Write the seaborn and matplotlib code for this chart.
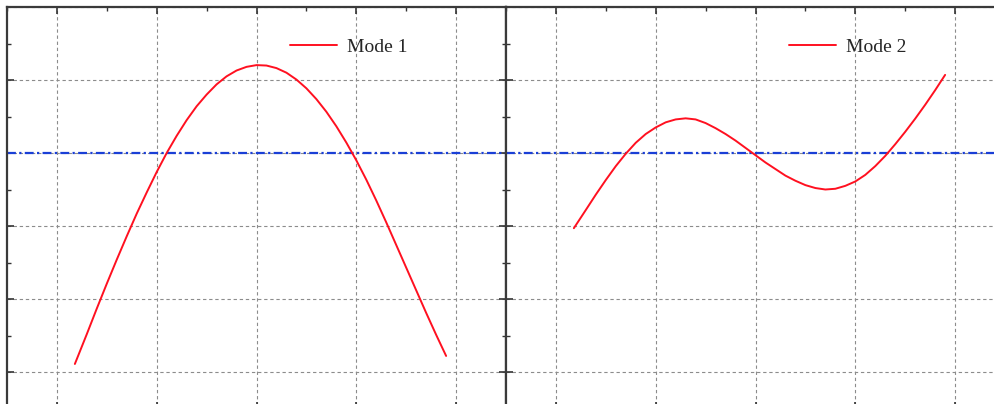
import matplotlib
matplotlib.use("Agg")
import matplotlib.pyplot as plt
from matplotlib.ticker import MultipleLocator
import pandas as pd
import seaborn as sns

# Mode shapes sampled along the span
mode1_x = [0.18, 0.30, 0.40, 0.50, 0.60, 0.70, 0.80, 0.90, 1.00, 1.10, 1.20, 1.30,
           1.40, 1.50, 1.60, 1.70, 1.80, 1.90, 2.00, 2.10, 2.20, 2.30, 2.40, 2.50,
           2.60, 2.70, 2.80, 2.90, 3.00, 3.10, 3.20, 3.30, 3.40, 3.50, 3.60, 3.70,
           3.80, 3.90]
mode1_y = [-2.89, -2.48, -2.13, -1.79, -1.46, -1.14, -0.83, -0.54, -0.26, 0.00, 0.235, 0.45,
           0.64, 0.80, 0.94, 1.05, 1.13, 1.18, 1.204, 1.198, 1.163, 1.10, 1.006, 0.886,
           0.738, 0.565, 0.366, 0.143, -0.10, -0.365, -0.65, -0.95, -1.26, -1.57, -1.88, -2.19,
           -2.49, -2.78]

mode2_x = [0.18, 0.30, 0.40, 0.50, 0.60, 0.70, 0.80, 0.90, 1.00, 1.10, 1.20, 1.30,
           1.40, 1.50, 1.60, 1.70, 1.80, 1.90, 2.00, 2.10, 2.20, 2.30, 2.40, 2.50,
           2.60, 2.70, 2.80, 2.90, 3.00, 3.10, 3.20, 3.30, 3.40, 3.50, 3.60, 3.70,
           3.80, 3.90]
mode2_y = [-1.03, -0.78, -0.57, -0.37, -0.18, -0.01, 0.14, 0.26, 0.35, 0.42, 0.46, 0.475,
           0.46, 0.41, 0.34, 0.26, 0.17, 0.07, -0.03, -0.13, -0.22, -0.31, -0.38, -0.44,
           -0.48, -0.50, -0.49, -0.45, -0.39, -0.30, -0.18, -0.04, 0.12, 0.29, 0.47, 0.66,
           0.86, 1.07]

labels = ["Mode 1", "Mode 2"]

sns.set_style("white")
plt.rcParams["font.family"] = ["Liberation Serif", "DejaVu Serif"]

W, H = 995, 404
fig = plt.figure(figsize=(W / 100, H / 100), dpi=100)
fig.patch.set_facecolor("white")

ax_w = 499 / W
ax_h = 401.5 / H
bottom = 1 - 7 / H - ax_h
axes = [fig.add_axes([7 / W, bottom, ax_w, ax_h]),
        fig.add_axes([506 / W, bottom, ax_w, ax_h])]

for ax, xs, ys, lab in zip(axes, [mode1_x, mode2_x], [mode1_y, mode2_y], labels):
    df = pd.DataFrame({"x": xs, "y": ys})
    ax.axhline(0, color="#1a3fd6", lw=1.6, dashes=(4, 1.5, 1, 1.5), zorder=2)
    sns.lineplot(data=df, x="x", y="y", ax=ax, color="#ff1020", lw=1.4,
                 label=lab, sort=False, zorder=3)

    ax.set_xlim(-0.5, 4.5)
    ax.set_ylim(-3.5, 2)
    ax.xaxis.set_major_locator(MultipleLocator(1))
    ax.xaxis.set_minor_locator(MultipleLocator(0.5))
    ax.yaxis.set_major_locator(MultipleLocator(1))
    ax.yaxis.set_minor_locator(MultipleLocator(0.5))
    ax.set_xlabel("")
    ax.set_ylabel("")

    ax.grid(True, which="major", color="#8c8c8c", ls=(0, (3, 2.5)), lw=0.8, zorder=1)
    ax.tick_params(which="both", direction="in", top=True, right=True, bottom=True,
                   left=True, labelbottom=False, labelleft=False, color="#333333")
    ax.tick_params(which="major", length=5, width=1.2)
    ax.tick_params(which="minor", length=3, width=1.0)
    for s in ax.spines.values():
        s.set_visible(True)
        s.set_color("#3a3a3a")
        s.set_linewidth(1.6)

    ax.legend(loc="center left", bbox_to_anchor=(0.567, 0.90), frameon=False,
              fontsize=14, handlelength=2.4, handletextpad=0.55,
              borderpad=0, borderaxespad=0)

fig.savefig("out.png", dpi=100, facecolor="white")
